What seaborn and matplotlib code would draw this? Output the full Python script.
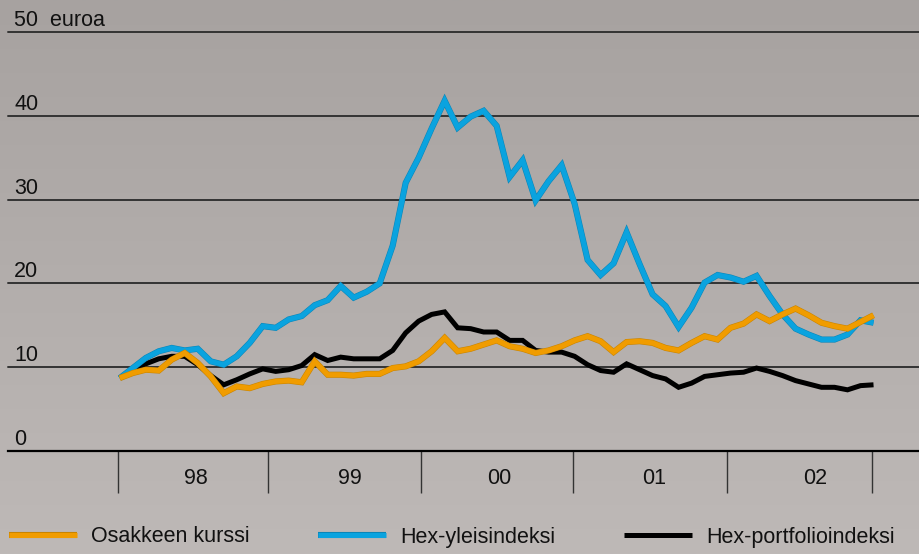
import numpy as np
import pandas as pd
import seaborn as sns
import matplotlib.pyplot as plt
import matplotlib.patheffects as pe
from matplotlib.colors import LinearSegmentedColormap

# kuukausiarvot, euroa (luettu kuvasta)
kurssi = [8.7, 9.3, 9.7, 9.6, 10.9, 11.7, 10.5, 8.9, 6.9, 7.7, 7.5, 8.0,
          8.3, 8.4, 8.2, 10.7, 9.1, 9.1, 9.0, 9.2, 9.2, 9.9, 10.1, 10.7,
          11.9, 13.5, 11.9, 12.2, 12.7, 13.2, 12.5, 12.2, 11.7, 12.0, 12.5, 13.2,
          13.7, 13.1, 11.8, 13.0, 13.1, 12.9, 12.3, 12.0, 12.9, 13.7, 13.3, 14.7,
          15.2, 16.3, 15.5, 16.3, 17.0, 16.2, 15.3, 14.9, 14.6, 15.4, 16.2]
yleis = [8.7, 9.9, 11.1, 11.9, 12.3, 12.0, 12.2, 10.7, 10.3, 11.3, 12.9, 14.9,
         14.7, 15.7, 16.1, 17.4, 18.0, 19.7, 18.3, 19.0, 20.0, 24.5, 32.0, 35.0,
         38.5, 41.8, 38.6, 39.9, 40.6, 38.8, 32.7, 34.7, 29.9, 32.2, 34.1, 29.5,
         22.8, 21.0, 22.4, 26.1, 22.3, 18.7, 17.3, 14.8, 17.1, 20.1, 21.0, 20.7,
         20.2, 20.9, 18.5, 16.3, 14.6, 13.9, 13.3, 13.3, 13.9, 15.6, 15.3]
portfolio = [8.7, 9.6, 10.4, 11.0, 11.3, 11.3, 10.3, 9.0, 7.9, 8.5, 9.2, 9.8,
             9.5, 9.7, 10.2, 11.5, 10.8, 11.2, 11.0, 11.0, 11.0, 12.0, 14.1, 15.5,
             16.3, 16.6, 14.7, 14.6, 14.2, 14.2, 13.2, 13.2, 12.0, 11.8, 11.8, 11.3,
             10.3, 9.6, 9.4, 10.4, 9.7, 9.0, 8.6, 7.6, 8.1, 8.9, 9.1, 9.3,
             9.4, 9.9, 9.5, 9.0, 8.4, 8.0, 7.6, 7.6, 7.3, 7.8, 7.9]

series_names = ["Osakkeen kurssi", "Hex-yleisindeksi", "Hex-portfolioindeksi"]
series_colors = ["#F09C00", "#0AA3DF", "#000000"]
edge_colors = ["#C98400", "#0A86B8", "#000000"]

year_labels = ["98", "99", "00", "01", "02"]
year_edges = [-0.15, 11.4, 23.15, 34.9, 46.7, 57.85]
year_label_pos = [5.85, 17.7, 29.2, 41.15, 53.5]
y_ticks = [0, 10, 20, 30, 40, 50]
y_labels = ["0", "10", "20", "30", "40", "50  euroa"]

months = np.arange(len(kurssi))
df = pd.DataFrame({
    "kk": np.tile(months, 3),
    "arvo": kurssi + yleis + portfolio,
    "sarja": np.repeat(series_names, len(months)),
})

sns.set_theme(style="white")
plt.rcParams["font.family"] = ["Liberation Sans", "DejaVu Sans"]
FS = 15.5

fig = plt.figure(figsize=(9.19, 5.54), dpi=100)

# taustan liukuväri
bg = fig.add_axes([0, 0, 1, 1], zorder=-10)
bg.imshow(np.linspace(0, 1, 256).reshape(-1, 1),
          cmap=LinearSegmentedColormap.from_list("bg", ["#A7A2A0", "#BEB9B7"]),
          aspect="auto", extent=[0, 1, 0, 1], origin="upper")
bg.axis("off")

ax = fig.add_axes([8 / 919, 103 / 554, 911 / 919, 419 / 554])
ax.set_facecolor("none")

sns.lineplot(data=df, x="kk", y="arvo", hue="sarja", hue_order=series_names,
             palette=dict(zip(series_names, series_colors)), linewidth=3.6,
             legend=False, ax=ax)

for line, z, ec in zip(ax.lines[:3], [5, 4, 3], edge_colors):
    line.set_zorder(z)
    line.set_solid_joinstyle("miter")
    line.set_solid_capstyle("butt")
    if ec != "#000000":
        line.set_path_effects([pe.Stroke(linewidth=4.4, foreground=ec), pe.Normal()])

ax.set_xlim(-8.6, 61.5)
ax.set_ylim(0, 50)
ax.set_xlabel("")
ax.set_ylabel("")

for s in ["top", "left", "right"]:
    ax.spines[s].set_visible(False)
ax.spines["bottom"].set_color("black")
ax.spines["bottom"].set_linewidth(1.6)

# vaakaviivat ja y-arvot
ax.set_yticks(y_ticks)
ax.set_yticklabels([])
ax.tick_params(axis="y", length=0, left=False)
ax.yaxis.grid(True, color="#333333", linewidth=1.4)
for gl in ax.get_ygridlines():
    gl.set_clip_on(False)
for v, lab in zip(y_ticks, y_labels):
    ax.annotate(lab, xy=(0.0066, v), xycoords=("axes fraction", "data"),
                xytext=(0, 4.3), textcoords="offset points",
                va="baseline", ha="left", fontsize=FS, color="#111111")

# vuodet
ax.set_xticks(year_edges)
ax.set_xticklabels([])
ax.tick_params(axis="x", which="major", bottom=True, direction="out",
               length=30, width=1.0, color="#333333")
ax.set_xticks(year_label_pos, minor=True)
ax.set_xticklabels(year_labels, minor=True)
ax.tick_params(axis="x", which="minor", bottom=True, length=0, pad=12,
               labelsize=FS, labelcolor="#111111")

leg = fig.legend(ax.lines[:3], series_names, loc="center left",
                 bbox_to_anchor=(9 / 919, 1 - 537 / 554), ncol=3,
                 frameon=False, fontsize=FS, handlelength=3.15,
                 handletextpad=0.65, columnspacing=3.2,
                 borderpad=0, borderaxespad=0)
for t in leg.get_texts():
    t.set_color("#111111")

fig.savefig("out.png", dpi=100)
